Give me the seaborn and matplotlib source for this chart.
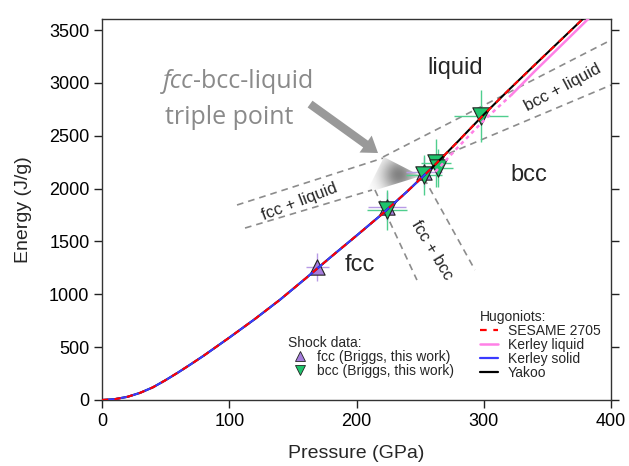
import numpy as np
import matplotlib
matplotlib.use("Agg")
import matplotlib.pyplot as plt
import seaborn as sns
from matplotlib.lines import Line2D
from matplotlib.patches import Polygon

# ---------------- data ----------------
# Hugoniot curves: pressure (GPa) vs energy (J/g)
P_yakoo = [0, 10, 20, 30, 40, 50, 60, 70, 80, 100, 120, 140, 160, 180, 200,
           220, 240, 260, 280, 300, 320, 340, 360, 380]
E_yakoo = [0, 8, 30, 68, 120, 188, 262, 340, 420, 590, 765, 950, 1150, 1355,
           1555, 1758, 1975, 2205, 2450, 2700, 2938, 3170, 3400, 3630]
P_sesame = [0, 10, 20, 30, 40, 50, 60, 70, 80, 100, 120, 140, 160, 180, 200,
            220, 240, 260, 280, 300, 320, 340, 360, 380]
E_sesame = [0, 8, 30, 68, 120, 188, 262, 340, 420, 590, 765, 950, 1150, 1355,
            1555, 1758, 1975, 2205, 2450, 2700, 2938, 3170, 3400, 3630]
P_ksolid = [0, 10, 20, 30, 40, 50, 60, 70, 80, 100, 120, 140, 160, 180, 200,
            220, 240, 258]
E_ksolid = [0, 8, 30, 68, 120, 188, 262, 340, 420, 590, 765, 950, 1150, 1355,
            1555, 1758, 1975, 2182]
P_kliq_meta = [262, 280, 300, 322]
E_kliq_meta = [2160, 2395, 2645, 2890]
P_kliq = [322, 340, 360, 385]
E_kliq = [2890, 3110, 3345, 3640]

# shock data
fcc_P = [169, 224, 253]
fcc_E = [1258, 1830, 2160]
fcc_dP = [9, 15, 14]
fcc_dE = [130, 140, 140]
bcc_P = [224, 253, 262.5, 264, 298]
bcc_E = [1797, 2128, 2242, 2195, 2687]
bcc_dP = [16, 14, 12, 12, 21]
bcc_dE = [190, 190, 230, 180, 250]

# phase-boundary dashed lines (end points)
fl_upper_P, fl_upper_E = [106.1, 220.8], [1845, 2289]
fl_lower_P, fl_lower_E = [112.4, 212.2], [1627, 1987]
fb_left_P, fb_left_E = [214.5, 247.5], [1987, 1135]
fb_right_P, fb_right_E = [253.0, 293.1], [2100, 1230]
bl_upper_P, bl_upper_E = [220.8, 400], [2299, 3406]
bl_lower_P, bl_lower_E = [264.0, 400], [2289, 2980]

# triple point shading and arrow
wedge_P = [221.6, 207.5, 250.7]
wedge_E = [2299, 1958, 2119]
glow_P, glow_E = 232.6, 2128
arrow_from = (163.5, 2800)
arrow_to = (216.9, 2337)

xticks = [0, 100, 200, 300, 400]
yticks = [0, 500, 1000, 1500, 2000, 2500, 3000, 3500]

# ---------------- style ----------------
sns.set_theme(style="ticks")
plt.rcParams["font.family"] = ["Liberation Sans", "DejaVu Sans"]

PURPLE = "#a57ddc"
GREEN = "#1fc46c"
PURPLE_E = "#b89be6"
GREEN_E = "#4fce8e"
GRAY_D = "#8c8c8c"

fig = plt.figure(figsize=(6.29, 4.66), dpi=100)
ax = fig.add_axes([102 / 629, 1 - 400 / 466, 509 / 629, 381 / 466])

dash_kw = dict(color=GRAY_D, lw=1.2, linestyle=(0, (4, 3)), zorder=1)
for px, ey in [(fl_upper_P, fl_upper_E), (fl_lower_P, fl_lower_E),
               (fb_left_P, fb_left_E), (fb_right_P, fb_right_E),
               (bl_upper_P, bl_upper_E), (bl_lower_P, bl_lower_E)]:
    sns.lineplot(x=px, y=ey, ax=ax, estimator=None, sort=False, legend=False, **dash_kw)

# gradient wedge near triple point
Pg = np.linspace(200, 256, 220)
Eg = np.linspace(1940, 2320, 220)
PP, EE = np.meshgrid(Pg, Eg)
d = np.hypot((PP - glow_P) * 1.2725, (EE - glow_E) * 0.10571)
rgba = np.zeros(PP.shape + (4,))
rgba[..., :3] = 0.42
rgba[..., 3] = 0.85 * np.exp(-(d / 17.0) ** 2)
im = ax.imshow(rgba, extent=[200, 256, 1940, 2320], origin="lower", aspect="auto",
               zorder=1.5, interpolation="bilinear")
poly = Polygon(np.column_stack([wedge_P, wedge_E]), closed=True, fc="none", ec="none",
               transform=ax.transData)
ax.add_patch(poly)
im.set_clip_path(poly)

# error bars
ax.errorbar(fcc_P, fcc_E, xerr=fcc_dP, yerr=fcc_dE, fmt="none", ecolor=PURPLE_E,
            elinewidth=1.0, capsize=0, zorder=2)
ax.errorbar(bcc_P, bcc_E, xerr=bcc_dP, yerr=bcc_dE, fmt="none", ecolor=GREEN_E,
            elinewidth=1.0, capsize=0, zorder=2.1)

sns.scatterplot(x=fcc_P, y=fcc_E, ax=ax, marker="^", s=11 ** 2, color=PURPLE,
                edgecolor="#222222", linewidth=0.8, zorder=3, legend=False)
sns.scatterplot(x=bcc_P, y=bcc_E, ax=ax, marker="v", s=12.5 ** 2, color=GREEN,
                edgecolor="#222222", linewidth=0.8, zorder=3.2, legend=False)

# Hugoniot curves
sns.lineplot(x=P_yakoo, y=E_yakoo, ax=ax, color="black", lw=1.5, estimator=None,
             sort=False, legend=False, zorder=4)
sns.lineplot(x=P_ksolid, y=E_ksolid, ax=ax, color="#3a3aff", lw=1.5, estimator=None,
             sort=False, legend=False, zorder=4.1)
sns.lineplot(x=P_kliq_meta, y=E_kliq_meta, ax=ax, color="#ff80e6", lw=1.8,
             linestyle=(0, (1.5, 1.5)), estimator=None, sort=False, legend=False, zorder=3.9)
sns.lineplot(x=P_kliq, y=E_kliq, ax=ax, color="#ff80e6", lw=1.8, estimator=None,
             sort=False, legend=False, zorder=3.9)
sns.lineplot(x=P_sesame, y=E_sesame, ax=ax, color="#ff0000", lw=1.5,
             linestyle=(0, (3, 3)), estimator=None, sort=False, legend=False, zorder=4.5)

# arrow
ax.annotate("", xy=arrow_to, xytext=arrow_from, zorder=6,
            arrowprops=dict(arrowstyle="simple,head_width=1.5,head_length=1.1,tail_width=0.6",
                            mutation_scale=10, fc="#999999", ec="none", shrinkA=0, shrinkB=0))

# phase labels
ax.text(277.4, 3141, "liquid", fontsize=17, ha="center", va="center")
ax.text(335.6, 2128, "bcc", fontsize=17, ha="center", va="center")
ax.text(202.8, 1277, "fcc", fontsize=17, ha="center", va="center")
ax.text(155.2, 1878, "fcc + liquid", fontsize=12, ha="center", va="center", rotation=21,
        rotation_mode="anchor")
ax.text(259.3, 1419, "fcc + bcc", fontsize=12, ha="center", va="center", rotation=-59,
        rotation_mode="anchor")
ax.text(362.3, 2960, "bcc + liquid", fontsize=12, ha="center", va="center", rotation=28,
        rotation_mode="anchor")

# triple point annotation
tgray = "#8a8a8a"
t1 = ax.text(47.9, 2951, "fcc", fontsize=18, style="italic", color=tgray,
             family=["Open Sans", "DejaVu Sans"], va="baseline", ha="left")
ax.annotate("-bcc-liquid", xy=(1, 0), xycoords=t1, fontsize=18, color=tgray,
            family=["Open Sans", "DejaVu Sans"], va="bottom", ha="left")
ax.text(49.5, 2610, "triple point", fontsize=18, color=tgray,
        family=["Open Sans", "DejaVu Sans"], va="baseline", ha="left")

# axes
ax.set_xlim(0, 400)
ax.set_ylim(0, 3605)
ax.set_xticks(xticks)
ax.set_yticks(yticks)
ax.tick_params(direction="out", length=6, width=1, labelsize=13, pad=3, colors="#222222",
               right=True, labelright=False)
ax.tick_params(axis="both", labelcolor="black")
for s in ax.spines.values():
    s.set_linewidth(1)
    s.set_color("#333333")
ax.set_xlabel("Pressure (GPa)", fontsize=14, labelpad=11)
ax.set_ylabel("Energy (J/g)", fontsize=14, labelpad=12)

# legends
h_shock = [Line2D([], [], ls="none", marker="^", ms=7, mfc=PURPLE, mec="#222222", mew=0.6),
           Line2D([], [], ls="none", marker="v", ms=7, mfc=GREEN, mec="#222222", mew=0.6)]
leg1 = ax.legend(h_shock, ["fcc (Briggs, this work)", "bcc (Briggs, this work)"],
                 title="Shock data:", loc="upper left", bbox_to_anchor=(0.3654, 0.168),
                 frameon=False, fontsize=10, title_fontsize=10, alignment="left",
                 borderpad=0, borderaxespad=0, handlelength=1.8, handletextpad=0.3,
                 labelspacing=0)
ax.add_artist(leg1)
h_hug = [Line2D([], [], color="#ff0000", lw=1.6, ls=(0, (3, 3))),
         Line2D([], [], color="#ff80e6", lw=1.8),
         Line2D([], [], color="#3a3aff", lw=1.6),
         Line2D([], [], color="black", lw=1.6)]
ax.legend(h_hug, ["SESAME 2705", "Kerley liquid", "Kerley solid", "Yakoo"],
          title="Hugoniots:", loc="upper left", bbox_to_anchor=(0.7426, 0.236),
          frameon=False, fontsize=10, title_fontsize=10, alignment="left",
          borderpad=0, borderaxespad=0, handlelength=1.3, handletextpad=0.7,
          labelspacing=0)

fig.savefig("out.png", dpi=100)
